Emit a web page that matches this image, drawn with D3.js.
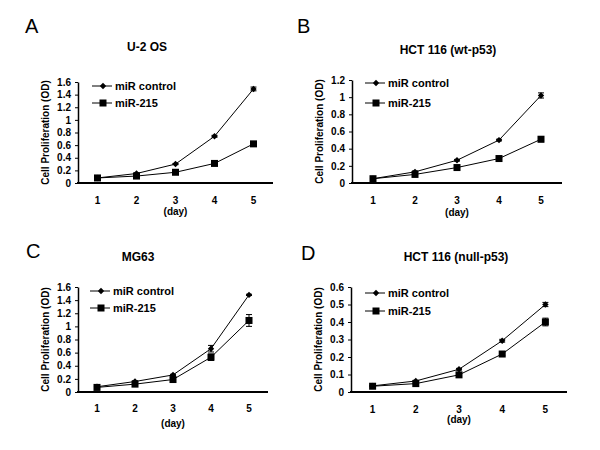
<!DOCTYPE html>
<html><head><meta charset="utf-8">
<script src="https://cdn.jsdelivr.net/npm/d3@7"></script>
<style>body{margin:0;background:#fff}svg{display:block}</style>
</head><body>
<svg id="c" width="600" height="450"></svg>
<script>
const days = [1, 2, 3, 4, 5];
const seriesNames = ["miR control", "miR-215"];
const panelLetters = ["A", "B", "C", "D"];
const panelTitles = ["U-2 OS", "HCT 116 (wt-p53)", "MG63", "HCT 116 (null-p53)"];
const yMaxes = [1.6, 1.2, 1.6, 0.6];
const yTickSteps = [0.2, 0.2, 0.2, 0.1];
// values: [panel][series][day]
const controlA = [0.08, 0.15, 0.30, 0.74, 1.49];
const mir215A  = [0.08, 0.11, 0.17, 0.31, 0.62];
const controlB = [0.05, 0.13, 0.265, 0.50, 1.02];
const mir215B  = [0.05, 0.10, 0.18, 0.285, 0.51];
const controlC = [0.08, 0.16, 0.26, 0.66, 1.48];
const mir215C  = [0.07, 0.12, 0.19, 0.53, 1.09];
const controlD = [0.035, 0.063, 0.13, 0.293, 0.50];
const mir215D  = [0.033, 0.048, 0.098, 0.217, 0.40];
const errControlA = [0.005, 0.01, 0.01, 0.015, 0.03];
const errMir215A  = [0.005, 0.01, 0.01, 0.015, 0.02];
const errControlB = [0.005, 0.01, 0.01, 0.01, 0.03];
const errMir215B  = [0.005, 0.01, 0.01, 0.01, 0.03];
const errControlC = [0.005, 0.01, 0.01, 0.05, 0.01];
const errMir215C  = [0.005, 0.01, 0.01, 0.05, 0.09];
const errControlD = [0.003, 0.004, 0.005, 0.008, 0.012];
const errMir215D  = [0.003, 0.004, 0.005, 0.008, 0.022];

const values = [[controlA, mir215A], [controlB, mir215B], [controlC, mir215C], [controlD, mir215D]];
const errors = [[errControlA, errMir215A], [errControlB, errMir215B], [errControlC, errMir215C], [errControlD, errMir215D]];

// layout
const layout = [
  {letter:[25,33], title:[147,51], x0:78, x1:273, yTop:82, yBot:183, tickY:204, dayY:215, legX:92, legY:[86,103]},
  {letter:[297,33], title:[448,54], x0:352, x1:562, yTop:80, yBot:183, tickY:204, dayY:216, legX:365, legY:[83,103]},
  {letter:[26,258], title:[138,261], x0:78, x1:268, yTop:287, yBot:392, tickY:412, dayY:427, legX:90, legY:[291,308]},
  {letter:[301,260], title:[456,261], x0:351, x1:567, yTop:287, yBot:392, tickY:413, dayY:423, legX:365, legY:[293,311]}
];

const svg = d3.select("#c");
const font = "Arial, 'Liberation Sans', Helvetica, sans-serif";

function marker(g, type, x, y) {
  if (type === 0) {
    g.append("path").attr("d", d3.symbol(d3.symbolDiamond2, 26)()).attr("transform", `translate(${x},${y})`).attr("fill", "#000");
  } else {
    g.append("rect").attr("x", x - 3.5).attr("y", y - 3.5).attr("width", 7).attr("height", 7).attr("fill", "#000");
  }
}

layout.forEach((L, p) => {
  const g = svg.append("g");
  g.append("text").attr("x", L.letter[0]).attr("y", L.letter[1]).attr("font-family", font)
    .attr("font-size", 20).text(panelLetters[p]);
  g.append("text").attr("x", L.title[0]).attr("y", L.title[1]).attr("text-anchor", "middle")
    .attr("font-family", font).attr("font-weight", "bold").attr("font-size", 12).text(panelTitles[p]);

  const x = d3.scaleLinear().domain([0.5, 5.5]).range([L.x0, L.x1]);
  const y = d3.scaleLinear().domain([0, yMaxes[p]]).range([L.yBot, L.yTop]);
  const ticks = d3.range(0, yMaxes[p] + 1e-9, yTickSteps[p]);

  const yAxis = d3.axisLeft(y).tickValues(ticks).tickSize(3).tickSizeOuter(0)
    .tickFormat(d => d3.format("~g")(+d.toFixed(2)));
  const ya = g.append("g").attr("transform", `translate(${L.x0},0)`).call(yAxis);
  ya.select(".domain").attr("stroke-width", 1.5);
  ya.selectAll("text").attr("font-family", font).attr("font-weight", "bold").attr("font-size", 10).attr("dx", -1);

  g.append("line").attr("x1", L.x0 - 1).attr("x2", L.x1).attr("y1", L.yBot).attr("y2", L.yBot)
    .attr("stroke", "#000").attr("stroke-width", 2);
  days.forEach(d => {
    g.append("text").attr("x", x(d)).attr("y", L.tickY).attr("text-anchor", "middle")
      .attr("font-family", font).attr("font-weight", "bold").attr("font-size", 10).text(d);
  });
  g.append("text").attr("x", x(3)).attr("y", L.dayY).attr("text-anchor", "middle")
    .attr("font-family", font).attr("font-weight", "bold").attr("font-size", 10).text("(day)");

  const cy = (L.yTop + L.yBot) / 2;
  const tx = L.x0 - 29;
  g.append("text").attr("transform", `translate(${tx},${cy}) rotate(-90)`).attr("text-anchor", "middle")
    .attr("font-family", font).attr("font-weight", "bold").attr("font-size", 10).text("Cell Proliferation (OD)");

  const line = d3.line().x((v, i) => x(days[i])).y(v => y(v));
  values[p].forEach((vals, s) => {
    g.append("path").attr("d", line(vals)).attr("fill", "none").attr("stroke", "#000").attr("stroke-width", 1);
    vals.forEach((v, i) => {
      const e = errors[p][s][i];
      const xx = x(days[i]);
      g.append("line").attr("x1", xx).attr("x2", xx).attr("y1", y(v - e)).attr("y2", y(v + e)).attr("stroke", "#000");
      [v - e, v + e].forEach(b => g.append("line").attr("x1", xx - 3).attr("x2", xx + 3).attr("y1", y(b)).attr("y2", y(b)).attr("stroke", "#000"));
      marker(g, s, xx, y(v));
    });
    const ly = L.legY[s];
    g.append("line").attr("x1", L.legX).attr("x2", L.legX + 20).attr("y1", ly).attr("y2", ly).attr("stroke", "#000");
    marker(g, s, L.legX + 11, ly);
    g.append("text").attr("x", L.legX + 23).attr("y", ly + 4).attr("font-family", font).attr("font-weight", "bold")
      .attr("font-size", 11).text(seriesNames[s]);
  });
});
</script>
</body></html>
